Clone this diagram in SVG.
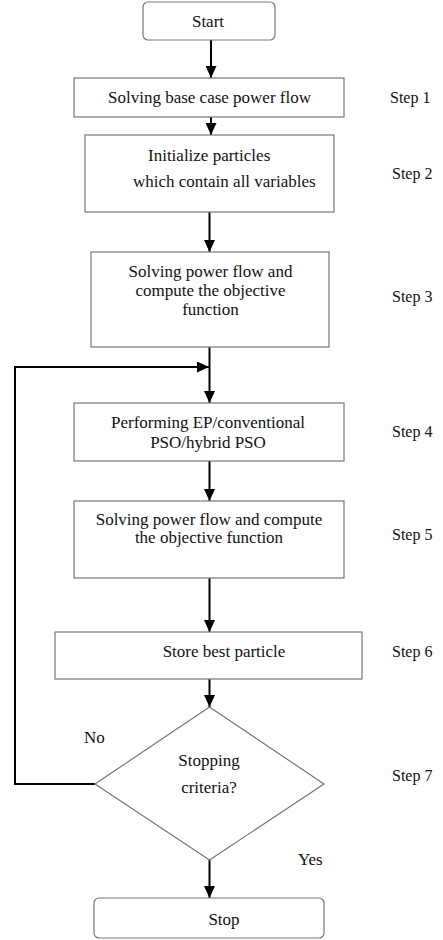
<svg xmlns="http://www.w3.org/2000/svg" width="443" height="940" viewBox="0 0 443 940">
<style>
.box{fill:#fff;stroke:#777;stroke-width:1.2}
.t{font-family:"Liberation Serif","Times New Roman",serif;font-size:17px;fill:#111}
.c{text-anchor:middle}
.s{font-family:"Liberation Serif","Times New Roman",serif;font-size:16px;fill:#111}
.ln{fill:none;stroke:#000;stroke-width:2}
</style>
<defs>
<marker id="ah" markerUnits="userSpaceOnUse" markerWidth="12" markerHeight="11" refX="12" refY="5.5" orient="auto">
<path d="M0,0 L12,5.5 L0,11 z" fill="#000"/>
</marker>
</defs>
<rect width="443" height="940" fill="#fff"/>
<g id="connectors">
<line class="ln" x1="211" y1="40" x2="211" y2="78" marker-end="url(#ah)"/>
<line class="ln" x1="211" y1="117" x2="211" y2="135" marker-end="url(#ah)"/>
<line class="ln" x1="209.5" y1="212" x2="209.5" y2="252" marker-end="url(#ah)"/>
<line class="ln" x1="209.5" y1="347" x2="209.5" y2="403" marker-end="url(#ah)"/>
<line class="ln" x1="209.5" y1="461" x2="209.5" y2="501" marker-end="url(#ah)"/>
<line class="ln" x1="209.5" y1="578" x2="209.5" y2="632" marker-end="url(#ah)"/>
<line class="ln" x1="209.5" y1="679" x2="209.5" y2="707" marker-end="url(#ah)"/>
<line class="ln" x1="209.5" y1="860" x2="209.5" y2="898" marker-end="url(#ah)"/>
<polyline class="ln" points="95,784 15,784 15,367 209,367" marker-end="url(#ah)"/>
</g>
<g id="start">
<rect class="box" x="143" y="2" width="132" height="38" rx="5"/>
<text class="t c" x="208" y="27">Start</text>
</g>
<g id="step1">
<rect class="box" x="74" y="78" width="270" height="39"/>
<text class="t c" x="209.5" y="103">Solving base case power flow</text>
<text class="s" x="390" y="103">Step 1</text>
</g>
<g id="step2">
<rect class="box" x="85" y="135" width="249" height="77"/>
<text class="t" x="148" y="161">Initialize particles</text>
<text class="t" x="133" y="187">which contain all variables</text>
<text class="s" x="392" y="179">Step 2</text>
</g>
<g id="step3">
<rect class="box" x="91" y="252" width="238" height="95"/>
<text class="t c" x="210.5" y="277">Solving power flow and</text>
<text class="t c" x="210.5" y="296">compute the objective</text>
<text class="t c" x="210.5" y="315">function</text>
<text class="s" x="392" y="302">Step 3</text>
</g>
<g id="step4">
<rect class="box" x="74" y="403" width="270" height="58"/>
<text class="t c" x="208" y="428">Performing EP/conventional</text>
<text class="t c" x="208" y="448">PSO/hybrid PSO</text>
<text class="s" x="392" y="437">Step 4</text>
</g>
<g id="step5">
<rect class="box" x="74" y="501" width="270" height="77"/>
<text class="t c" x="209" y="525">Solving power flow and compute</text>
<text class="t c" x="209" y="543">the objective function</text>
<text class="s" x="392" y="540">Step 5</text>
</g>
<g id="step6">
<rect class="box" x="55" y="632" width="307" height="47"/>
<text class="t c" x="224" y="657">Store best particle</text>
<text class="s" x="392" y="657">Step 6</text>
</g>
<g id="step7">
<polygon class="box" points="209.5,707 324,784 209.5,860 95,784"/>
<text class="t c" x="209" y="766">Stopping</text>
<text class="t c" x="209" y="793">criteria?</text>
<text class="s" x="392" y="781">Step 7</text>
<text class="t" x="84" y="743">No</text>
<text class="t" x="298" y="865">Yes</text>
</g>
<g id="stop">
<rect class="box" x="94" y="898" width="230" height="40" rx="5"/>
<text class="t c" x="224" y="925">Stop</text>
</g>
</svg>
